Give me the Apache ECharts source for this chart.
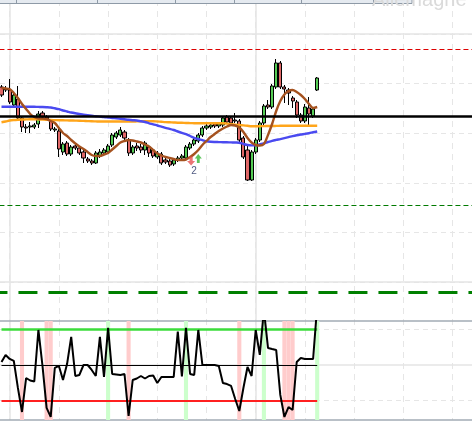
<!DOCTYPE html>
<html><head><meta charset="utf-8">
<script src="https://cdn.jsdelivr.net/npm/echarts@6/dist/echarts.min.js"></script>
<style>html,body{margin:0;padding:0;background:#fff}#c{width:472px;height:421px}</style>
</head><body><div id="c"></div>
<script>
// ---- data ----
const slotCount = 116;
const categories = Array.from({length: slotCount}, (_, i) => String(i + 1));
const openPrices  = [413,411,410,395,401,382,373,373,373,376,387,383,379,370,369,348,357,346,354,352,348,341,339,337,344,347,348,355,363,365,368,360,347,354,353,350,353,350,343,346,340,339,336,340,342,342,352,356,359,365,372,373,376,374,375,383,382,380,379,362,350,320,348,360,377,395,393,413,437,413,410,402,398,385,379,392,384,410];
const closePrices = [405,410,398,405,382,373,372,374,375,386,383,381,371,371,351,356,346,353,352,347,342,339,337,347,348,350,354,365,367,370,362,347,353,352,350,357,347,344,347,337,338,335,340,342,344,353,356,360,365,372,374,375,374,376,382,378,377,379,360,343,320,348,360,377,394,393,414,437,413,411,407,399,385,379,393,386,391,422];
const lowPrices   = [403,408,396,393,380,368,367,367,371,372,381,379,369,368,343,345,344,344,350,345,337,337,335,336,342,345,346,353,361,363,360,344,345,349,347,345,343,342,341,335,336,333,334,338,340,340,350,354,357,363,370,371,372,372,373,376,375,377,358,341,319,319,346,358,375,391,391,411,411,397,395,392,382,377,377,373,382,409];
const highPrices  = [415,414,421,407,414,384,376,378,377,389,389,385,381,373,371,358,359,355,356,354,350,343,341,349,351,352,356,367,369,373,370,362,355,357,356,359,355,352,349,348,342,341,342,344,346,355,358,362,367,374,376,377,378,378,384,385,384,387,381,364,355,350,362,379,396,400,416,441,439,415,412,404,400,387,396,403,393,423];
const maFast = [412,411.5,411,407,402,396,391,386,383,381.5,381.5,381,379,377,372,367,364,360,356.5,353.5,351,348,345,344,344,345.5,347,350.5,354,357.5,359,360,359.5,358.5,357.5,355.5,353.5,350,346.5,344.5,343,342,341,340,340,340.5,343,346,350,355,359,363,366,369,371.5,373.5,375,374.5,372.5,368,362,357.5,355,354.5,356,365,376,389,399,405.5,409,410,408,405,401,396,392,393];
const maMid = [393.3,393.3,393.3,393.3,393.3,393.3,393.3,393.3,393.2,393.1,393,392.8,392.5,391.7,390.8,389.5,388.5,387.5,386.7,386,385.3,384.7,384.2,383.8,383.4,383,382.5,382,381.7,381.2,380.7,380.2,379.8,379.5,378.7,378,376.7,375.7,374.5,373.4,372.2,371.2,370,368.5,367.1,365.8,364,362.2,361,359.9,358.7,358.2,358,357.9,357.8,357.7,357.6,357.5,357.3,356,355,354.6,354.8,355.7,356.7,358,359.2,360.1,360.9,361.8,362.8,363.9,364.8,365.5,366.1,366.8,367.7,368.5];
const maSlow = [377.7,378.5,379.5,380,380.3,380.5,380.6,380.7,380.7,380.6,380.5,380.3,380,379.9,379.8,379.7,379.6,379.5,379.4,379.3,379.1,378.9,378.7,378.6,378.5,378.5,378.5,378.5,378.5,378.5,378.5,378.5,378.5,378.6,378.7,378.8,378.9,378.8,378.5,378.2,377.9,377.7,377.5,377.3,377.2,377,376.9,376.8,376.7,376.7,376.7,376.7,376.7,376.7,376.7,376.4,375.9,375.4,375,374.6,374.2,373.8,373.7,373.8,373.9,374,374,374.1,374.2,374.3,374.3,374.3,374.3,374.3,374.3,374.3,374.3,374.3];
const oscValues = [52.5,58.5,55.1,53.4,30.6,10.3,39.0,36.9,36.1,79.6,49.2,13.7,6.1,47.5,49.2,37.3,51.0,73.7,40.7,41.6,50.0,50.0,45.8,40.7,73.7,39.9,81.3,42.4,42.0,41.6,42.4,6.9,37.3,38.6,40.7,38.6,40.7,41.1,34.8,39.9,39.9,39.9,39.9,78.3,40.3,81.3,42.4,41.6,79.6,50.0,50.0,50.0,50.0,49.2,34.8,33.9,32.3,21.3,11.1,30.6,48.3,40.7,79.6,58.5,96.5,64.4,63.5,62.7,24.7,6.1,14.5,12.0,52.5,55.9,55.1,55.1,55.1,100];
const resistanceLevel = 451, pivotLevel = 384, supportLevel = 295, deepSupportLevel = 207.5;
const oscUpper = 80, oscMid = 50, oscLower = 20;
const sellSignalIdx = [46], sellSignalVal = [339];
const buySignalIdx = [48], buySignalVal = [341.5];
const signalLabel = '2';
const watermark = 'Allemagne';

// ---- layout ----
const PRICE_MIN = 179, PRICE_MAX = 500;
const OSC_MIN = 3.52, OSC_MAX = 87.18;
const GL = -0.55, GW = 475.6;
const last = openPrices.length - 1;

const candleData = openPrices.map((o, i) => [o, closePrices[i], lowPrices[i], highPrices[i]]);
const overbought = oscValues.map(v => v > oscUpper ? OSC_MAX : '-');
const oversold = oscValues.map(v => v < oscLower ? OSC_MAX : '-');

const off = {axisLine:{show:false}, axisTick:{show:false}, axisLabel:{show:false}, splitLine:{show:false}};
const borderLine = {show:true, onZero:false, lineStyle:{color:'#a2abb5', width:1.5}};

const chart = echarts.init(document.getElementById('c'));
chart.setOption({
  animation:false,
  backgroundColor:'#ffffff',
  grid:[
    {left:GL, top:0, width:GW, height:321, outerBoundsMode:'none'},
    {left:GL, top:321, width:GW, height:99, outerBoundsMode:'none'},
    {left:9.7, top:0, width:442.8, height:420, outerBoundsMode:'none'},
    {left:9.7, top:0, width:246, height:420, outerBoundsMode:'none'},
    {left:0, top:34, width:472, height:248, outerBoundsMode:'none'},
    {left:0, top:329.5, width:472, height:71, outerBoundsMode:'none'},
    {left:0, top:365, width:472, height:35.5, outerBoundsMode:'none'}
  ],
  xAxis:[
    Object.assign({type:'category', gridIndex:0, data:categories, boundaryGap:true}, off),
    Object.assign({type:'category', gridIndex:1, data:categories, boundaryGap:true, position:'top'}, off, {axisLine:borderLine}),
    Object.assign({type:'category', gridIndex:1, data:categories, boundaryGap:true, position:'bottom'}, off, {axisLine:borderLine}),
    Object.assign({type:'value', gridIndex:2, min:0, max:9, interval:1}, off, {splitLine:{show:true, lineStyle:{color:'#e6e6e6', width:1, type:[6,5]}}}),
    Object.assign({type:'value', gridIndex:3, min:0, max:5, interval:5}, off, {splitLine:{show:true, lineStyle:{color:'#e4e4e4', width:1.5}}}),
    Object.assign({type:'value', gridIndex:4, min:0, max:1}, off),
    Object.assign({type:'value', gridIndex:5, min:0, max:1}, off),
    Object.assign({type:'value', gridIndex:6, min:0, max:1, position:'top'}, off, {axisLine:{show:true, onZero:false, lineStyle:{color:'#e4e4e4', width:1.5}}})
  ],
  yAxis:[
    Object.assign({type:'value', gridIndex:0, min:PRICE_MIN, max:PRICE_MAX}, off),
    Object.assign({type:'value', gridIndex:1, min:OSC_MIN, max:OSC_MAX}, off),
    Object.assign({type:'value', gridIndex:2, min:0, max:1}, off),
    Object.assign({type:'value', gridIndex:3, min:0, max:1}, off),
    Object.assign({type:'value', gridIndex:4, min:0, max:5, interval:1}, off, {splitLine:{show:true, lineStyle:{color:'#e6e6e6', width:1, type:[5,4]}}}),
    Object.assign({type:'value', gridIndex:4, min:0, max:5, interval:5}, off, {splitLine:{show:true, lineStyle:{color:'#e4e4e4', width:1.5}}}),
    Object.assign({type:'value', gridIndex:5, min:0, max:2, interval:2}, off, {splitLine:{show:true, lineStyle:{color:'#e6e6e6', width:1, type:[5,4]}}}),
    Object.assign({type:'value', gridIndex:6, min:0, max:1}, off)
  ],
  series:[
    {type:'candlestick', name:'Cours', xAxisIndex:0, yAxisIndex:0, data:candleData, barWidth:3.6, z:3,
     itemStyle:{color:'#55cc55', color0:'#e06868', borderColor:'#000', borderColor0:'#000', borderWidth:1}},
    {type:'line', name:'MM lente', xAxisIndex:0, yAxisIndex:0, data:maSlow, showSymbol:false, smooth:0.3, z:4,
     lineStyle:{color:'#ffa51a', width:2.4}},
    {type:'line', name:'MM moyenne', xAxisIndex:0, yAxisIndex:0, data:maMid, showSymbol:false, smooth:0.3, z:4,
     lineStyle:{color:'#4a4af0', width:2.4}},
    {type:'line', name:'MM rapide', xAxisIndex:0, yAxisIndex:0, data:maFast, showSymbol:false, smooth:0.3, z:4,
     lineStyle:{color:'#a5521f', width:2.4}},
    {type:'line', name:'Niveaux', xAxisIndex:0, yAxisIndex:0, data:[], z:5,
     markLine:{silent:true, symbol:['none','none'], label:{show:false}, animation:false,
       data:[
         {yAxis:resistanceLevel, lineStyle:{color:'#dd0000', width:1, type:[5,3]}},
         {yAxis:pivotLevel, lineStyle:{color:'#000000', width:2.5, type:'solid'}},
         {yAxis:supportLevel, lineStyle:{color:'#007a00', width:1, type:[5,3]}},
         {yAxis:deepSupportLevel, lineStyle:{color:'#008000', width:3, type:[19,11], dashOffset:11}}
       ]}},
    {type:'scatter', name:'Vente', xAxisIndex:0, yAxisIndex:0, z:6,
     data:sellSignalIdx.map((x, k) => [x, sellSignalVal[k]]),
     symbol:'path://M3,0 L7,0 L7,5 L10,5 L5,10 L0,5 L3,5 Z', symbolSize:[8,9], symbolOffset:[1,0],
     itemStyle:{color:'#e65353'},
     label:{show:true, position:'bottom', distance:1, offset:[3,0], formatter:signalLabel, color:'#223060', fontSize:10, fontFamily:'Liberation Sans, Arial'}},
    {type:'scatter', name:'Achat', xAxisIndex:0, yAxisIndex:0, z:6,
     data:buySignalIdx.map((x, k) => [x, buySignalVal[k]]),
     symbol:'path://M5,0 L10,5 L7,5 L7,10 L3,10 L3,5 L0,5 Z', symbolSize:[7,9],
     itemStyle:{color:'#33b533'}},
    {type:'bar', name:'Surachat', xAxisIndex:1, yAxisIndex:1, data:overbought, barWidth:'100%', barGap:'-100%', barCategoryGap:'0%', z:1,
     itemStyle:{color:'#ccffcc'}},
    {type:'bar', name:'Survente', xAxisIndex:1, yAxisIndex:1, data:oversold, barWidth:'100%', barGap:'-100%', barCategoryGap:'0%', z:1,
     itemStyle:{color:'#ffcccc'}},
    {type:'line', name:'Oscillateur', xAxisIndex:1, yAxisIndex:1, data:oscValues, showSymbol:false, z:5,
     lineStyle:{color:'#000', width:2},
     markLine:{silent:true, symbol:['none','none'], label:{show:false}, animation:false,
       data:[
         [{coord:[categories[0], oscUpper], lineStyle:{color:'#3bdc3b', width:2.5, type:'solid'}}, {coord:[categories[last], oscUpper]}],
         [{coord:[categories[0], oscMid], lineStyle:{color:'#000', width:1, type:'solid'}}, {coord:[categories[last], oscMid]}],
         [{coord:[categories[0], oscLower], lineStyle:{color:'#ff2020', width:2, type:'solid'}}, {coord:[categories[last], oscLower]}]
       ]}}
  ],
  graphic:[
    {type:'rect', z:100, shape:{x:-1, y:-6, width:413, height:9.5}, style:{fill:'#e5eaf0', stroke:'#8e9aa7', lineWidth:1}},
    {type:'line', z:101, shape:{x1:16.5, y1:-6, x2:16.5, y2:3.5}, style:{stroke:'#8e9aa7', lineWidth:1}},
    {type:'line', z:101, shape:{x1:97.5, y1:-6, x2:97.5, y2:3.5}, style:{stroke:'#8e9aa7', lineWidth:1}},
    {type:'line', z:101, shape:{x1:175.5, y1:-6, x2:175.5, y2:3.5}, style:{stroke:'#8e9aa7', lineWidth:1}},
    {type:'line', z:101, shape:{x1:234.5, y1:-6, x2:234.5, y2:3.5}, style:{stroke:'#8e9aa7', lineWidth:1}},
    {type:'line', z:101, shape:{x1:301.5, y1:-6, x2:301.5, y2:3.5}, style:{stroke:'#8e9aa7', lineWidth:1}},
    {type:'line', z:101, shape:{x1:373.5, y1:-6, x2:373.5, y2:3.5}, style:{stroke:'#8e9aa7', lineWidth:1}},
    {type:'text', z:102, x:372, y:10, style:{text:watermark, fill:'#dadada', font:'20px "Liberation Sans", Arial', verticalAlign:'bottom', textVerticalAlign:'bottom'}}
  ]
});
</script>
</body></html>
